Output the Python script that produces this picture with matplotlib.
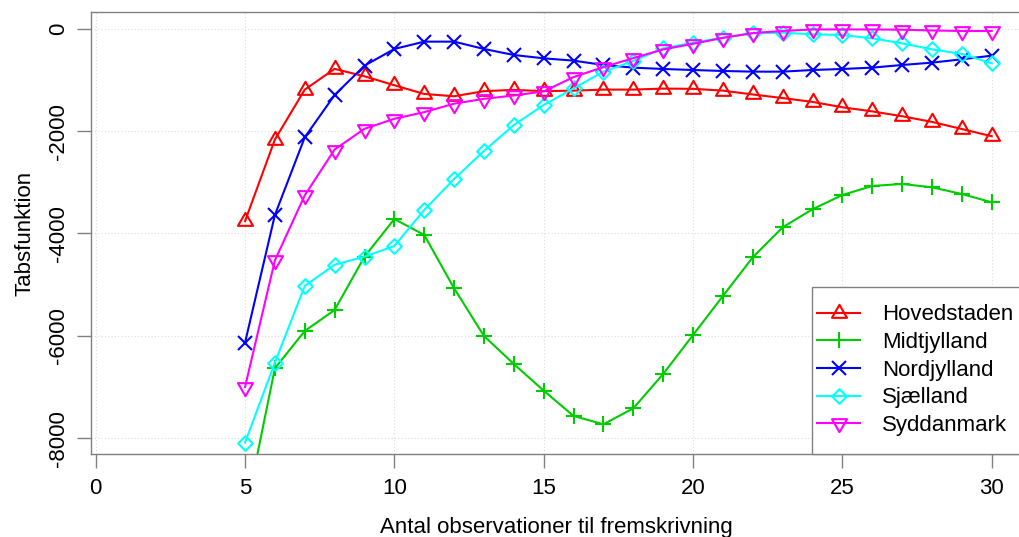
import matplotlib
matplotlib.use("Agg")
import matplotlib.pyplot as plt
from matplotlib.path import Path
from matplotlib.patches import Rectangle
import numpy as np

plt.rcParams['font.family'] = ['Liberation Sans', 'DejaVu Sans']

x_obs = list(range(5, 31))
hovedstaden = [-3760, -2165, -1190, -785, -930, -1105, -1275, -1320, -1220, -1195,
               -1220, -1210, -1190, -1190, -1170, -1175, -1210, -1285, -1355, -1430,
               -1535, -1615, -1710, -1820, -1960, -2100]
midtjylland = [-9500, -6633, -5904, -5494, -4453, -3717, -4029, -5071, -6002, -6549,
               -7070, -7564, -7727, -7414, -6744, -5982, -5221, -4465, -3879, -3527,
               -3248, -3072, -3033, -3098, -3229, -3391]
nordjylland = [-6133, -3639, -2121, -1295, -722, -396, -253, -253, -396, -514,
               -579, -624, -709, -761, -787, -807, -826, -839, -839, -807,
               -787, -761, -709, -663, -598, -527]
sjaelland = [-8086, -6523, -5025, -4610, -4453, -4244, -3541, -2936, -2389, -1881,
             -1490, -1165, -839, -631, -383, -273, -176, -91, -78, -110,
             -123, -188, -286, -403, -494, -676]
syddanmark = [-7000, -4525, -3255, -2360, -1955, -1760, -1630, -1465, -1370, -1305,
              -1225, -945, -750, -575, -405, -295, -180, -85, -45, -15,
              -15, -15, -20, -35, -45, -45]

series_names = ["Hovedstaden", "Midtjylland", "Nordjylland", "Sjælland", "Syddanmark"]
series_colors = ["#FF0000", "#00CD00", "#0000FF", "#00FFFF", "#FF00FF"]
x_ticks = [0, 5, 10, 15, 20, 25, 30]
y_ticks = [0, -2000, -4000, -6000, -8000]

# R-like marker shapes
s3 = np.sqrt(3)
tri_up = Path([(0, 2 / s3), (1, -1 / s3), (-1, -1 / s3), (0, 2 / s3)],
              [Path.MOVETO, Path.LINETO, Path.LINETO, Path.CLOSEPOLY])
tri_dn = Path([(0, -2 / s3), (1, 1 / s3), (-1, 1 / s3), (0, -2 / s3)],
              [Path.MOVETO, Path.LINETO, Path.LINETO, Path.CLOSEPOLY])
diamond = Path([(0, 1), (1, 0), (0, -1), (-1, 0), (0, 1)],
               [Path.MOVETO, Path.LINETO, Path.LINETO, Path.LINETO, Path.CLOSEPOLY])
markers = [(tri_up, 12.5), ("+", 12), ("x", 10.5), (diamond, 10.6), (tri_dn, 12.5)]

W, H = 1019, 537
fig = plt.figure(figsize=(W / 100, H / 100), dpi=100)
left_px, right_px, top_px, bot_px = 91, 1021, 12.3, 454
aw, ah = right_px - left_px, bot_px - top_px
ax = fig.add_axes([left_px / W, (H - bot_px) / H, aw / W, ah / H])

data = [hovedstaden, midtjylland, nordjylland, sjaelland, syddanmark]
for vals, name, col, (mk, ms) in zip(data, series_names, series_colors, markers):
    ax.plot(x_obs, vals, color=col, lw=1.5, marker=mk, ms=ms, mew=1.5,
            mfc='none', mec=col, label=name, clip_on=True)

ax.set_xlim(-0.157, 30.98)
ax.set_ylim(-8307, 320)
ax.set_xticks(x_ticks)
ax.set_yticks(y_ticks)
ax.set_xticklabels([str(v) for v in x_ticks])
ax.set_yticklabels([str(v) for v in y_ticks])

ax.grid(True, color='#DCDCDC', linestyle=(0, (1, 2)), lw=0.8)
ax.set_axisbelow(True)

for sp in ax.spines.values():
    sp.set_color('#808080')
    sp.set_linewidth(1.0)

ax.tick_params(axis='both', direction='out', length=10, width=1.0, color='#808080',
               labelsize=16, labelcolor='black')
ax.tick_params(axis='x', pad=7)
ax.tick_params(axis='y', pad=5.5, labelrotation=90)
for lbl in ax.get_yticklabels():
    lbl.set_verticalalignment('center')

ax.set_xlabel("Antal observationer til fremskrivning", fontsize=16)
ax.xaxis.set_label_coords(0.5005, -0.1655)
ax.xaxis.label.set_verticalalignment('center')
ax.set_ylabel("Tabsfunktion", fontsize=16)
ax.yaxis.set_label_coords(-0.071, 0.5)
ax.yaxis.label.set_verticalalignment('center')

# legend frame (R style, bottom right, cut by figure edge)
frame_left, frame_top = 812.3, 286.7
ax.add_patch(Rectangle(((frame_left - left_px) / aw, 0), 1.2, (bot_px - frame_top) / ah,
                       transform=ax.transAxes, facecolor='white', edgecolor='#808080',
                       lw=1.0, zorder=4.9, clip_on=False))
fs_px = 16 * 100 / 72
leg = ax.legend(loc='upper left',
                bbox_to_anchor=((817.3 - left_px) / aw, (bot_px - 304.5) / ah),
                fontsize=16, frameon=False, borderaxespad=0, borderpad=0,
                handlelength=42.7 / fs_px, handletextpad=21.7 / fs_px,
                labelspacing=0.30, numpoints=1)
leg.set_zorder(5)

fig.savefig("out.png", dpi=100)
